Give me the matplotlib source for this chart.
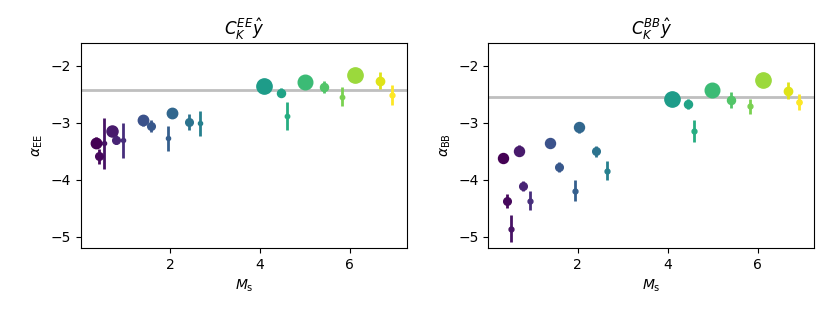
import numpy as np
import matplotlib
matplotlib.use("Agg")
import matplotlib.pyplot as plt

# M_s positions (shared by both panels)
ms_ee = [0.35, 0.42, 0.53, 0.70, 0.79, 0.95, 1.41, 1.58, 1.95, 2.04, 2.42, 2.67,
         4.10, 4.46, 4.60, 5.00, 5.42, 5.83, 6.12, 6.68, 6.94]
alpha_ee = [-3.35, -3.59, -3.36, -3.15, -3.30, -3.31, -2.96, -3.06, -3.27, -2.83, -2.99, -3.01,
            -2.36, -2.47, -2.88, -2.28, -2.37, -2.54, -2.16, -2.26, -2.51]
err_ee = [0.10, 0.13, 0.45, 0.08, 0.08, 0.31, 0.10, 0.10, 0.22, 0.07, 0.14, 0.22,
          0.03, 0.08, 0.24, 0.03, 0.10, 0.16, 0.03, 0.15, 0.18]
ref_ee = -2.43

ms_bb = [0.34, 0.42, 0.52, 0.70, 0.78, 0.94, 1.39, 1.58, 1.94, 2.03, 2.40, 2.65,
         4.10, 4.46, 4.59, 4.99, 5.41, 5.83, 6.11, 6.68, 6.93]
alpha_bb = [-3.62, -4.37, -4.86, -3.49, -4.11, -4.37, -3.35, -3.78, -4.19, -3.08, -3.50, -3.84,
            -2.58, -2.67, -3.15, -2.42, -2.60, -2.71, -2.25, -2.44, -2.63]
err_bb = [0.08, 0.12, 0.24, 0.10, 0.09, 0.17, 0.05, 0.09, 0.19, 0.10, 0.10, 0.16,
          0.03, 0.08, 0.19, 0.03, 0.14, 0.13, 0.03, 0.15, 0.14]
ref_bb = -2.54

# viridis positions for colouring each point
cvals = [0.00, 0.02, 0.05, 0.07, 0.10, 0.13, 0.25, 0.27, 0.30, 0.33, 0.38, 0.43,
         0.55, 0.58, 0.62, 0.68, 0.73, 0.80, 0.85, 0.95, 1.00]

titles = [r"$C_K^{EE}\hat{y}$", r"$C_K^{BB}\hat{y}$"]
ylabels = [r"$\alpha_{\rm EE}$", r"$\alpha_{\rm BB}$"]

# marker sizes (pt) per point: big / medium / small in each group
msizes_left = [7.5, 5.5, 3, 8, 5.5, 3, 7.5, 5.5, 3, 7.5, 5.5, 3, 11, 5.8, 3.2, 10.5, 5.8, 3.2, 11, 6, 3.5]
msizes_right = [7.2, 5.5, 3.5, 7.2, 5.5, 3.5, 7.2, 5.5, 3.5, 7.2, 5.5, 3.5, 11, 5.8, 3.5, 10.5, 5.8, 3.5, 11, 6, 3.8]

fig, axes = plt.subplots(1, 2, figsize=(8.3, 3.12), dpi=100)
fig.subplots_adjust(left=0.0976, right=0.981, top=0.862, bottom=0.205, wspace=0.25)

cmap = plt.get_cmap("viridis")
datasets = [(ms_ee, alpha_ee, err_ee, ref_ee, msizes_left),
            (ms_bb, alpha_bb, err_bb, ref_bb, msizes_right)]
for ax, (xs, ys, es, ref, sizes), title, ylab in zip(axes, datasets, titles, ylabels):
    ax.axhline(ref, color="#bfbfbf", lw=2, zorder=1)
    for x, y, e, c, s in zip(xs, ys, es, cvals, sizes):
        ax.errorbar(x, y, yerr=e, fmt="o", color=cmap(c), ms=s, elinewidth=2,
                    capsize=0, zorder=3)
    ax.set_ylim(-5.2, -1.6)
    ax.set_yticks([-5, -4, -3, -2])
    ax.set_xticks([2, 4, 6])
    ax.set_title(title, fontsize=12)
    ax.set_xlabel(r"$M_{\rm s}$")
    ax.set_ylabel(ylab)

fig.savefig("out.png", dpi=100)
